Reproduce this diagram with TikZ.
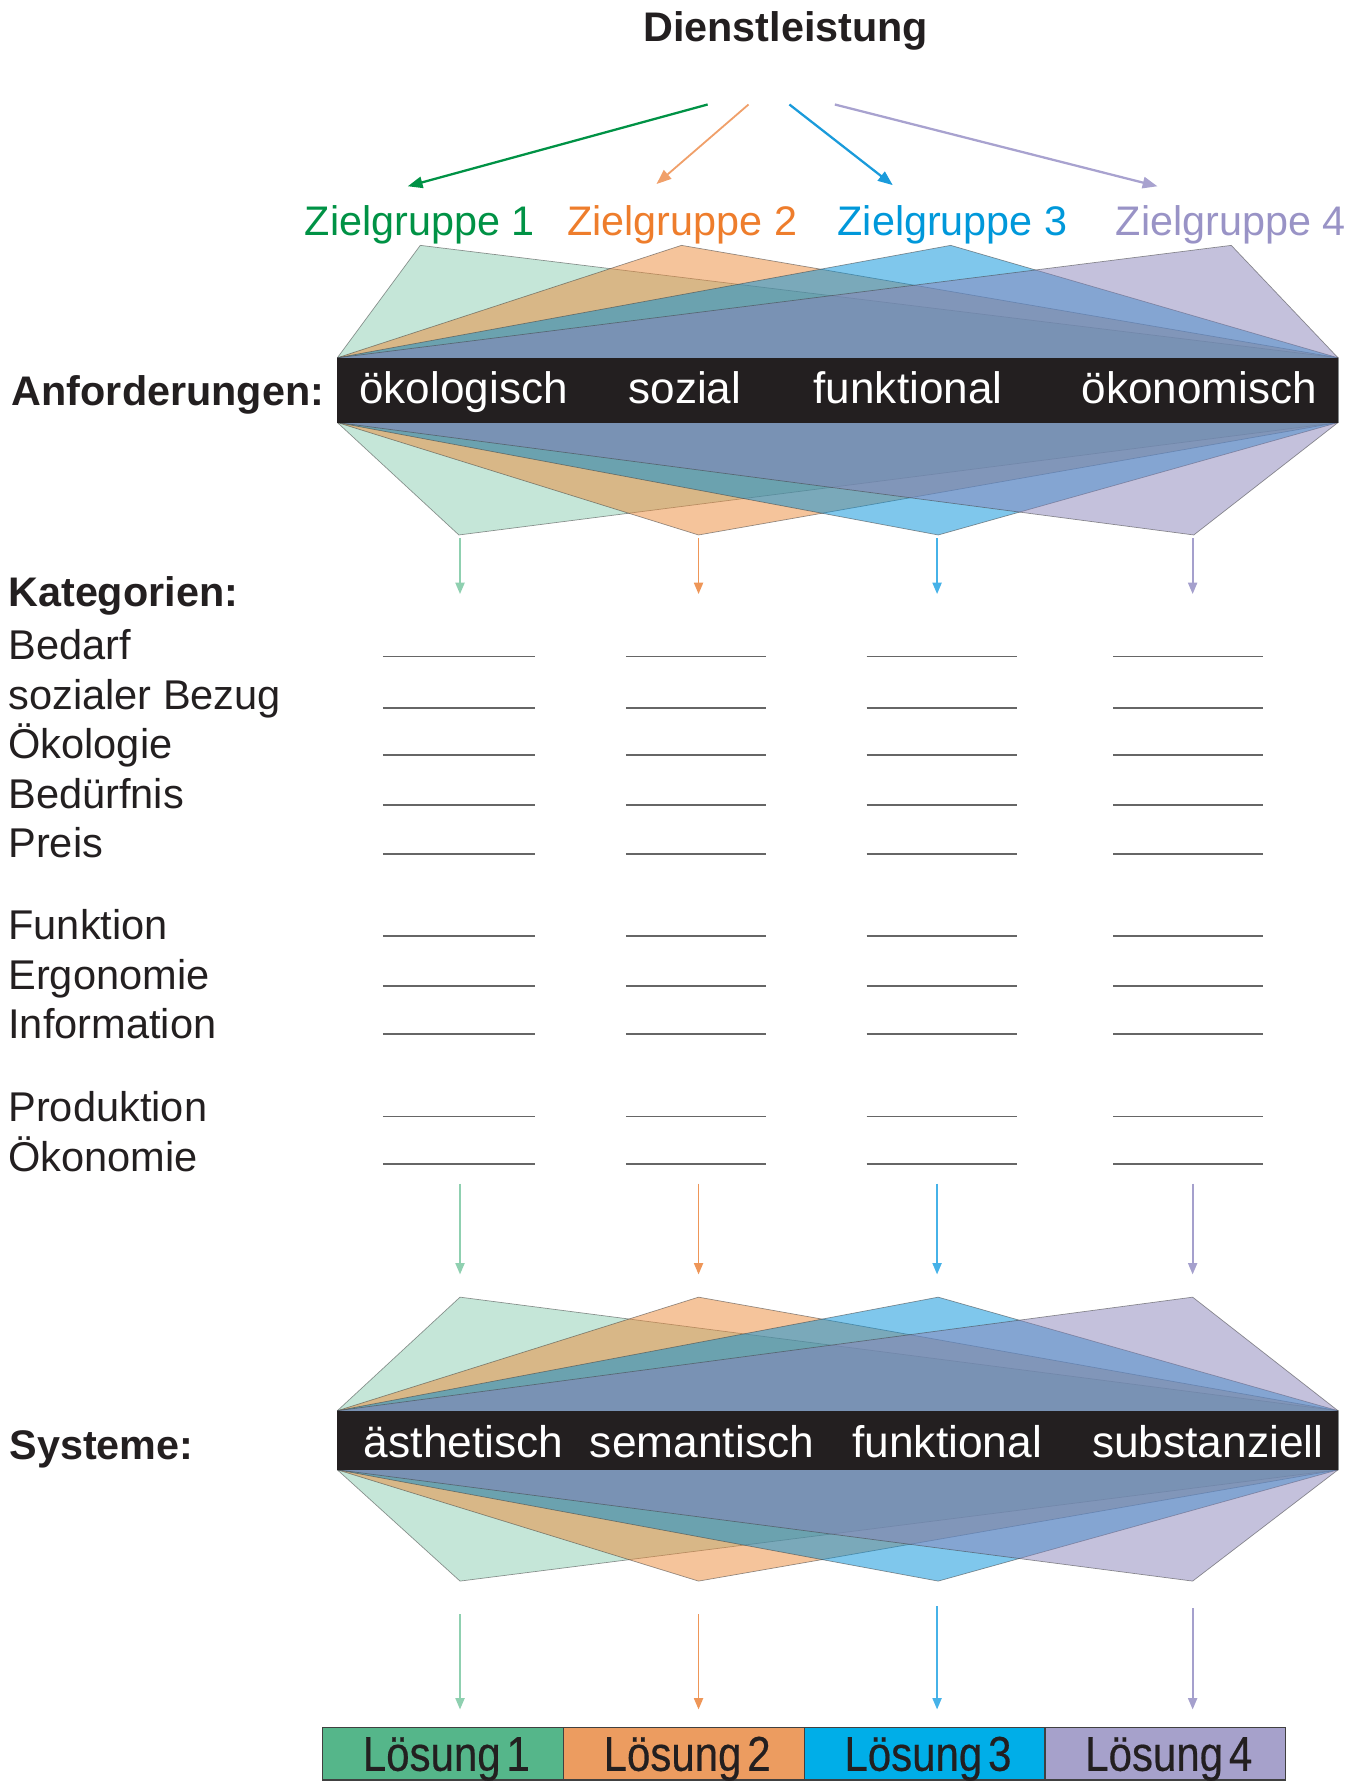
\documentclass[tikz,border=0pt]{standalone}
\usepackage{fontspec}
\setmainfont{Liberation Sans}
\newfontfamily\condfont[FakeStretch=0.86,FakeBold=0.4]{Liberation Sans}
\usetikzlibrary{arrows.meta}
\definecolor{zgA}{RGB}{0,146,69}
\definecolor{zgB}{RGB}{238,125,44}
\definecolor{zgC}{RGB}{0,152,218}
\definecolor{zgD}{RGB}{153,147,198}
\definecolor{arB}{RGB}{240,160,106}
\definecolor{arC}{RGB}{26,155,219}
\definecolor{arD}{RGB}{168,162,207}
\definecolor{vA}{RGB}{143,208,176}
\definecolor{vB}{RGB}{238,150,88}
\definecolor{vC}{RGB}{70,178,232}
\definecolor{vD}{RGB}{165,160,205}
\definecolor{pA}{RGB}{139,205,177}
\definecolor{pB}{RGB}{235,137,55}
\definecolor{pC}{RGB}{0,143,217}
\definecolor{pD}{RGB}{137,131,185}
\definecolor{lA}{RGB}{85,182,138}
\definecolor{lB}{RGB}{236,156,96}
\definecolor{lC}{RGB}{0,174,232}
\definecolor{lD}{RGB}{166,161,203}
\definecolor{barc}{RGB}{35,31,32}
\begin{document}
\begin{tikzpicture}[x=0.5pt,y=-0.5pt,
  lbl/.style={inner sep=0pt, anchor=base west, font=\fontsize{18.2}{20}\selectfont},
  hdr/.style={inner sep=0pt, anchor=base west, font=\fontsize{18.2}{20}\selectfont\bfseries, text=barc},
  cat/.style={inner sep=0pt, anchor=base west, font=\fontsize{18.3}{20}\selectfont, text=barc},
  bartxt/.style={inner sep=0pt, anchor=base west, text=white, font=\fontsize{19.4}{22}\selectfont},
  bartxtb/.style={inner sep=0pt, anchor=base west, text=white, font=\fontsize{19.5}{22}\selectfont},
  poly/.style={draw=black!75, draw opacity=0.55, line width=0.3pt, fill opacity=0.5},
  bar/.style={fill=barc, inner sep=0pt, minimum width=440.5pt},
  blank/.style={draw=black!60, line width=0.8pt},
  tarrow/.style={-{Triangle[length=6.5pt,width=5pt]}, line width=1pt},
  varrow/.style={-{Triangle[length=5pt,width=4pt]}, line width=0.75pt},
  lsg/.style={draw=black!75, line width=0.6pt, minimum width=106pt, minimum height=23pt, inner sep=0pt},
  lsgt/.style={inner sep=0pt, anchor=base, text=barc, font=\condfont\fontsize{21.5}{23}\selectfont}
]
\useasboundingbox (0,0) rectangle (1204,1568);

% title
\node[hdr] (dl) at (566,36.7) {Dienstleistung};

% arrows to target groups
\coordinate (t1s) at (623,92);  \coordinate (t1e) at (359,164);
\coordinate (t2s) at (659,92);  \coordinate (t2e) at (578,162);
\coordinate (t3s) at (695,92);  \coordinate (t3e) at (786,163);
\coordinate (t4s) at (735,92);  \coordinate (t4e) at (1019,164);
\draw[tarrow, zgA] (t1s) -- (t1e);
\draw[tarrow, arB, line width=0.8pt] (t2s) -- (t2e);
\draw[tarrow, arC] (t3s) -- (t3e);
\draw[tarrow, arD] (t4s) -- (t4e);

% target groups
\node[lbl, text=zgA] (z1) at (268,207) {Zielgruppe 1};
\node[lbl, text=zgB] (z2) at (499,207) {Zielgruppe 2};
\node[lbl, text=zgC] (z3) at (737,207) {Zielgruppe 3};
\node[lbl, text=zgD] (z4) at (982,207) {Zielgruppe 4};

% upper polygons
\coordinate (Unw) at (297,315); \coordinate (Une) at (1178,315);
\coordinate (Use) at (1178,372); \coordinate (Usw) at (297,372);
\foreach \c/\tx/\bx in {pA/370/404, pB/600/615, pC/837/826, pD/1084/1051}
  \path[poly, fill=\c] (Unw) -- (\tx,216) -- (Une) -- (Use) -- (\bx,471) -- (Usw) -- cycle;

% upper bar
\node[bar, minimum height=28.5pt] (ubar) at (737.5,343.5) {};
\node[bartxt] (u1) at (316,355.6) {ökologisch};
\node[bartxt] (u2) at (553,355.6) {sozial};
\node[bartxt] (u3) at (716,355.6) {funktional};
\node[bartxt] (u4) at (952,355.6) {ökonomisch};
\node[hdr] (anf) at (10,357.3) {Anforderungen:};

% arrows to categories
\foreach \i/\x/\c in {1/405/vA, 2/615/vB, 3/825/vC, 4/1050/vD}{
  \coordinate (a\i s) at (\x,474);
  \coordinate (a\i e) at (\x,523);
  \draw[varrow, \c] (a\i s) -- (a\i e);
}

% categories
\node[hdr] (kat) at (7,534) {Kategorien:};
\foreach \y/\t/\d [count=\i] in {578/Bedarf/3, 623/sozialer Bezug/2, 665/Ökologie/3, 709/Bedürfnis/3, 752/Preis/3, 824/Funktion/3, 868/Ergonomie/3, 910/Information/4, 983/Produktion/4, 1025/Ökonomie/6}{
  \node[cat] (k\i) at (7,\y+\d) {\t};
  \draw[blank] (337,\y) -- (471,\y);
  \draw[blank] (551,\y) -- (674,\y);
  \draw[blank] (763,\y) -- (895,\y);
  \draw[blank] (980,\y) -- (1112,\y);
}

% arrows to systems
\foreach \i/\x/\c in {1/405/vA, 2/615/vB, 3/825/vC, 4/1050/vD}{
  \coordinate (m\i s) at (\x,1042);
  \coordinate (m\i e) at (\x,1122);
  \draw[varrow, \c] (m\i s) -- (m\i e);
}

% lower polygons
\coordinate (Lnw) at (297,1242); \coordinate (Lne) at (1178,1242);
\coordinate (Lse) at (1178,1294); \coordinate (Lsw) at (297,1294);
\foreach \c/\tx in {pA/405, pB/615, pC/826, pD/1050}
  \path[poly, fill=\c] (Lnw) -- (\tx,1142) -- (Lne) -- (Lse) -- (\tx,1392) -- (Lsw) -- cycle;

% lower bar
\node[bar, minimum height=26pt] (lbar) at (737.5,1268) {};
\node[bartxtb] (s1) at (320,1283) {ästhetisch};
\node[bartxtb] (s2) at (519,1283) {semantisch};
\node[bartxtb] (s3) at (750,1283) {funktional};
\node[bartxtb] (s4) at (961,1283) {substanziell};
\node[hdr] (sys) at (8,1285) {Systeme:};

% arrows to solutions
\foreach \i/\x/\c/\s in {1/405/vA/1421, 2/615/vB/1421, 3/825/vC/1414, 4/1050/vD/1416}{
  \coordinate (b\i s) at (\x,\s);
  \coordinate (b\i e) at (\x,1505);
  \draw[varrow, \c] (b\i s) -- (b\i e);
}

% solutions
\foreach \i/\x/\c in {1/390/lA, 2/602/lB, 3/814/lC, 4/1026/lD}{
  \node[lsg, fill=\c] (l\i) at (\x,1544) {};
  \node[lsgt] (l\i t) at (\x+3,1559) {Lösung\hspace{0.12em}\i};
}
\end{tikzpicture}
\end{document}
